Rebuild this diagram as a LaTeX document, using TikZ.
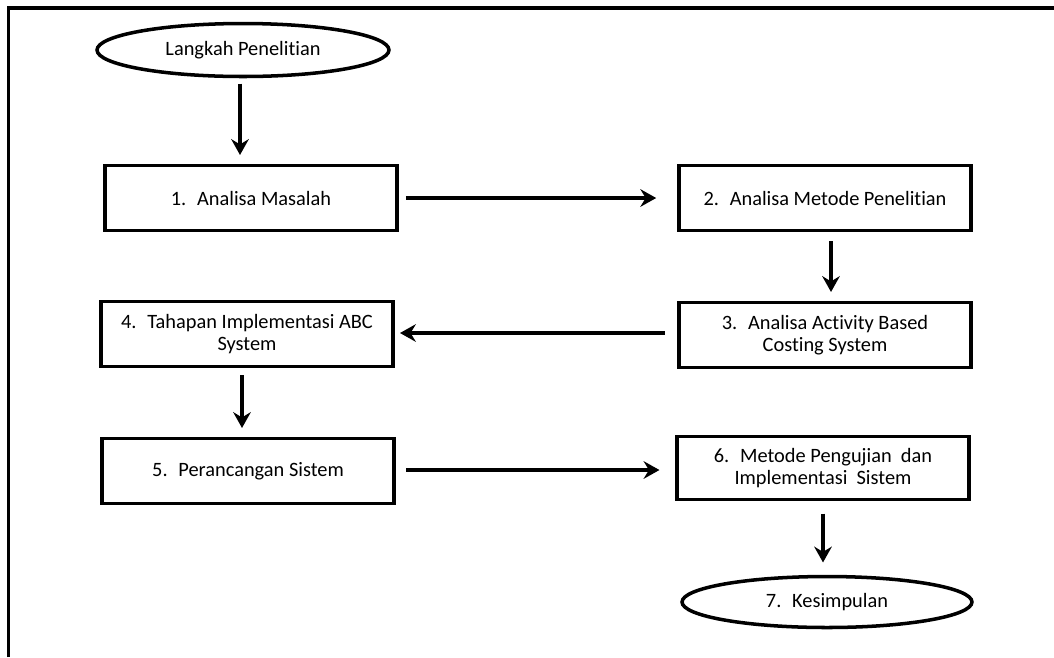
\documentclass[tikz,border=0pt]{standalone}
\usepackage{fontspec}
\setmainfont{Carlito}[Ligatures=NoCommon]
\usepackage{tikz}
\usetikzlibrary{shapes.geometric,arrows.meta,positioning}

\begin{document}
\begin{tikzpicture}[
        x=0.02cm, y=-0.02cm,
        langkah/.style={
            rectangle, draw, line width=2pt, fill=white,
            align=center, font=\fontsize{11.6}{12.4}\selectfont,
            minimum width=5.84cm, minimum height=1.3cm, inner sep=2pt
        },
        oval/.style={
            ellipse, draw, line width=2pt, fill=white,
            font=\fontsize{11.6}{12.4}\selectfont,
            minimum width=5.84cm, minimum height=1.06cm, inner sep=0pt
        },
        panah/.style={
            line width=2pt, -{Stealth[length=9pt,width=10pt,inset=3pt]}
        }
    ]

    \useasboundingbox (0,0) rectangle (1054,657);

    % Frame
    \draw[line width=2pt] (8.5,657) -- (8.5,8) -- (1054,8);

    % Start
    \node[oval] (mulai) at (243, 50) {Langkah Penelitian};

    % Steps
    \node[langkah] (masalah) at (251, 198) {1.~ Analisa Masalah};
    \node[langkah] (metode) at (825, 198) {2.~ Analisa Metode Penelitian};
    \node[langkah] (abc) at (825, 335) {3.~ Analisa Activity Based\\Costing System};
    \node[langkah] (tahapan) at (247, 334) {4.~ Tahapan Implementasi ABC\\System};
    \node[langkah] (rancang) at (248, 471) {5.~ Perancangan Sistem};
    \node[langkah, minimum height=1.26cm] (uji) at (823, 468) {6.~ Metode Pengujian~ dan\\Implementasi~ Sistem};

    % End
    \node[oval, minimum width=5.8cm, minimum height=1.02cm] (simpulan) at (827, 602) {7.~ Kesimpulan};

    % Arrows
    \draw[panah, shorten <=3pt, shorten >=5pt] (mulai.south -| 240,0) -- (masalah.north -| 240,0);
    \draw[panah, shorten <=4pt, shorten >=12pt] (masalah.east) -- (masalah.east -| metode.west);
    \draw[panah, shorten <=5pt, shorten >=5pt] (metode.south -| 831,0) -- (abc.north -| 831,0);
    \draw[panah, shorten <=7pt, shorten >=3pt] (abc.west |- 0,333) -- (tahapan.east |- 0,333);
    \draw[panah, shorten <=4pt, shorten >=5pt] (tahapan.south -| 242,0) -- (rancang.north -| 242,0);
    \draw[panah, shorten <=6pt, shorten >=9pt] (rancang.east |- 0,470) -- (uji.west |- 0,470);
    \draw[panah, shorten <=7pt, shorten >=7pt] (uji.south) -- (simpulan.north -| uji.south);

\end{tikzpicture}
\end{document}
